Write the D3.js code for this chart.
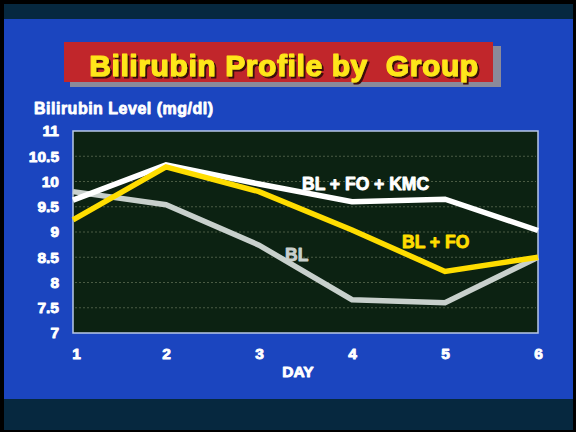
<!DOCTYPE html>
<html>
<head>
<meta charset="utf-8">
<script src="https://cdn.jsdelivr.net/npm/d3@7"></script>
<style>
  body { margin: 0; background: #000; }
  svg { display: block; font-family: "Liberation Sans", Arial, sans-serif; font-weight: bold; }
  .pre { white-space: pre; }
</style>
</head>
<body>
<div id="chart"></div>
<script>
const width = 576, height = 432;

const days = [1, 2, 3, 4, 5, 6];
const yTicks = [7, 7.5, 8, 8.5, 9, 9.5, 10, 10.5, 11];
const yTickLabels = ["7", "7.5", "8", "8.5", "9", "9.5", "10", "10.5", "11"];
const blFoKmc = [9.63, 10.33, 9.95, 9.6, 9.65, 9.03];
const blFo = [9.24, 10.29, 9.8, 9.04, 8.22, 8.5];
const bl = [9.8, 9.54, 8.74, 7.66, 7.6, 8.5];
const seriesNames = ["BL + FO + KMC", "BL + FO", "BL"];

const margin = {left: 73, right: 38, top: 131, bottom: 99};

let svg = d3.select("#chart").append("svg")
  .attr("width", width)
  .attr("height", height);

// heavy text helper: fill plus same-colour stroke to fatten the glyphs
function heavy(sel, color, sw) {
  return sel.attr("fill", color).attr("stroke", color).attr("stroke-width", sw)
    .attr("stroke-linejoin", "round");
}

// drop shadow for the title text
svg.append("defs").append("filter").attr("id", "shadow")
  .attr("x", "-5%").attr("y", "-20%").attr("width", "115%").attr("height", "150%")
  .append("feDropShadow")
  .attr("dx", 2).attr("dy", 2).attr("stdDeviation", 0.6)
  .attr("flood-color", "#3a0a0a").attr("flood-opacity", 1);

// slide background
svg.append("rect").attr("x", 0).attr("y", 0).attr("width", width).attr("height", height).attr("fill", "#000");
svg.append("rect").attr("x", 4).attr("y", 4).attr("width", 569).attr("height", 426).attr("fill", "#06283f");
svg.append("rect").attr("x", 4).attr("y", 19).attr("width", 569).attr("height", 380).attr("fill", "#1b45bf");

// title box with shadow
svg.append("rect").attr("x", 70).attr("y", 46).attr("width", 431).attr("height", 41).attr("fill", "#8a8a9a");
svg.append("rect").attr("x", 64).attr("y", 42).attr("width", 429).attr("height", 40).attr("fill", "#c1262b");
heavy(svg.append("text").attr("class", "pre").attr("x", 284).attr("y", 76).attr("text-anchor", "middle")
  .attr("font-size", 30).attr("letter-spacing", 0.6)
  .attr("filter", "url(#shadow)")
  .text("Bilirubin Profile by  Group"), "#ffe61a", 1.2);

heavy(svg.append("text").attr("x", 34).attr("y", 114)
  .attr("font-size", 16).attr("letter-spacing", 0.5)
  .text("Bilirubin Level (mg/dl)"), "#fff", 0.8);

const x = d3.scaleLinear().domain([1, 6]).range([margin.left, width - margin.right]);
const y = d3.scaleLinear().domain([7, 11]).range([height - margin.bottom, margin.top]);

// plot area
svg.append("rect")
  .attr("x", x(1)).attr("y", y(11))
  .attr("width", x(6) - x(1)).attr("height", y(7) - y(11))
  .attr("fill", "#0c2212")
  .attr("stroke", "#b8c8e8").attr("stroke-width", 1.5);

// grid
svg.append("g").selectAll("line")
  .data(yTicks.slice(1, -1))
  .join("line")
  .attr("x1", x(1) + 2).attr("x2", x(6) - 2)
  .attr("y1", d => y(d)).attr("y2", d => y(d))
  .attr("stroke", "#5a6a50").attr("stroke-width", 0.8)
  .attr("stroke-dasharray", "2,2");

// y axis
let yAxis = svg.append("g")
  .attr("transform", `translate(${x(1) - 11},0)`)
  .call(d3.axisLeft(y).tickValues(yTicks).tickFormat((d, i) => yTickLabels[i]).tickSize(0));
yAxis.select(".domain").remove();
heavy(yAxis.selectAll("text").attr("font-size", 15.5)
  .attr("font-family", "Liberation Sans, Arial, sans-serif").attr("font-weight", "bold"), "#fff", 0.9);

// x axis
let xAxis = svg.append("g")
  .attr("transform", `translate(0,${y(7) + 12})`)
  .call(d3.axisBottom(x).tickValues(days).tickFormat(d3.format("d")).tickSize(0));
xAxis.select(".domain").remove();
heavy(xAxis.selectAll("text").attr("font-size", 15.5)
  .attr("font-family", "Liberation Sans, Arial, sans-serif").attr("font-weight", "bold")
  .attr("dx", d => d === 1 ? 3 : 0), "#fff", 0.9);

heavy(svg.append("text").attr("x", 298).attr("y", 377).attr("text-anchor", "middle")
  .attr("font-size", 15.5).text("DAY"), "#fff", 0.9);

// lines
const line = d3.line().x((d, i) => x(days[i])).y(d => y(d));
const lineData = [
  {vals: bl, color: "#c8d0cc"},
  {vals: blFoKmc, color: "#ffffff"},
  {vals: blFo, color: "#ffdd00"}
];
svg.append("g").selectAll("path")
  .data(lineData)
  .join("path")
  .attr("d", d => line(d.vals))
  .attr("fill", "none")
  .attr("stroke", d => d.color)
  .attr("stroke-width", 5.5)
  .attr("stroke-linejoin", "miter");

// series labels
heavy(svg.append("text").attr("class", "pre").attr("x", 302).attr("y", 190).attr("font-size", 17.5)
  .text(seriesNames[0]), "#fff", 0.9);
heavy(svg.append("text").attr("class", "pre").attr("x", 402).attr("y", 248).attr("font-size", 17.5)
  .text(seriesNames[1]), "#ffdd00", 0.9);
heavy(svg.append("text").attr("x", 285).attr("y", 261).attr("font-size", 17.5)
  .text(seriesNames[2]), "#c8d0cc", 0.9);
</script>
</body>
</html>
